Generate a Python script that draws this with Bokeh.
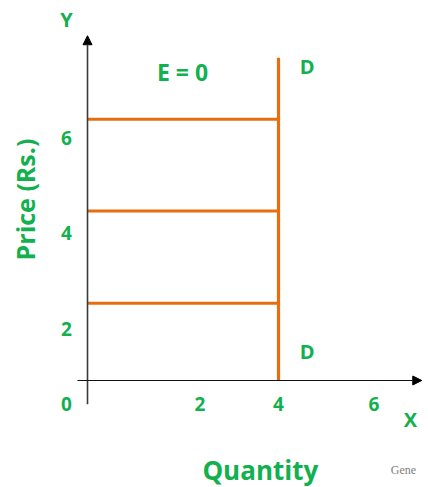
from bokeh.plotting import figure
from bokeh.models import Arrow, NormalHead
from bokeh.core.properties import value
from bokeh.embed import file_html
from bokeh.resources import INLINE

# ---- data ----
demand_quantity = 4.0                # perfectly inelastic demand: quantity fixed
price_levels = [5.47, 3.55, 1.62]    # prices at which quantity demanded stays the same
x_ticks = [0, 2, 4, 6]
x_tick_labels = ["0", "2", "4", "6"]
y_ticks = [6, 4, 2]
y_tick_labels = ["6", "4", "2"]

GREEN = "#12B04E"
ORANGE = "#E66E0E"
FONT = value("Open Sans")

p = figure(width=428, height=487, x_range=(-1.822, 7.141), y_range=(-2.241, 7.958),
           output_backend="svg", toolbar_location=None,
           x_axis_location=None, y_axis_location=None, min_border=0)
p.grid.visible = False
p.outline_line_color = None

# axes (arrows)
p.add_layout(Arrow(x_start=0, y_start=-0.5, x_end=0, y_end=7.22,
                   line_color="#3a3a3a", line_width=1.6,
                   end=NormalHead(size=9, fill_color="black", line_color="black")))
p.add_layout(Arrow(x_start=-0.21, y_start=0, x_end=7.0, y_end=0,
                   line_color="#111111", line_width=1.2,
                   end=NormalHead(size=9, fill_color="black", line_color="black")))

# horizontal price lines up to the demand curve
p.segment(x0=[0] * len(price_levels), y0=price_levels,
          x1=[demand_quantity] * len(price_levels), y1=price_levels,
          line_color=ORANGE, line_width=3)
# vertical demand curve
p.segment(x0=[demand_quantity], y0=[0], x1=[demand_quantity], y1=[6.76],
          line_color=ORANGE, line_width=3.2)

# tick labels (x ticks; the "0" sits left of the origin, the "2" is drawn a little right)
x_label_pos = [-0.44] + x_ticks[1:]
p.text(x=x_label_pos, y=[0] * len(x_ticks), text=x_tick_labels,
       x_offset=[0, 17, 0, 0], y_offset=24,
       text_align="center", text_baseline="middle", text_color=GREEN,
       text_font=FONT, text_font_style="bold", text_font_size="19px")
p.text(x=[-0.44] * len(y_ticks), y=y_ticks, text=y_tick_labels, y_offset=44,
       text_align="center", text_baseline="middle", text_color=GREEN,
       text_font=FONT, text_font_style="bold", text_font_size="19px")

# axis letters
p.text(x=[-0.44], y=[7.56], text=["Y"], text_align="center", text_baseline="middle",
       text_color=GREEN, text_font=FONT, text_font_style="bold", text_font_size="20px")
p.text(x=[6.76], y=[-0.82], text=["X"], text_align="center", text_baseline="middle",
       text_color=GREEN, text_font=FONT, text_font_style="bold", text_font_size="20px")

# annotations
p.text(x=[1.99], y=[6.47], text=["E = 0"], text_align="center", text_baseline="middle",
       text_color=GREEN, text_font=FONT, text_font_style="bold", text_font_size="23px")
p.text(x=[4.6, 4.6], y=[6.58, 0.61], text=["D", "D"], text_align="center",
       text_baseline="middle", text_color=GREEN, text_font=FONT,
       text_font_style="bold", text_font_size="20px")

# axis titles
p.text(x=[-1.30], y=[3.79], text=["Price (Rs.)"], angle=1.5708,
       text_align="center", text_baseline="middle", text_color=GREEN,
       text_font=FONT, text_font_style="bold", text_font_size="25px")
p.text(x=[3.62], y=[-1.87], text=["Quantity"], text_align="center",
       text_baseline="middle", text_color=GREEN, text_font=FONT,
       text_font_style="bold", text_font_size="26px")

# cut-off watermark
p.text(x=[6.35], y=[-1.87], text=["Gene"], text_align="left", text_baseline="middle",
       text_color="#808080", text_font=value("Liberation Serif"), text_font_size="12px")

open("out.html", "w").write(file_html(p, INLINE))
